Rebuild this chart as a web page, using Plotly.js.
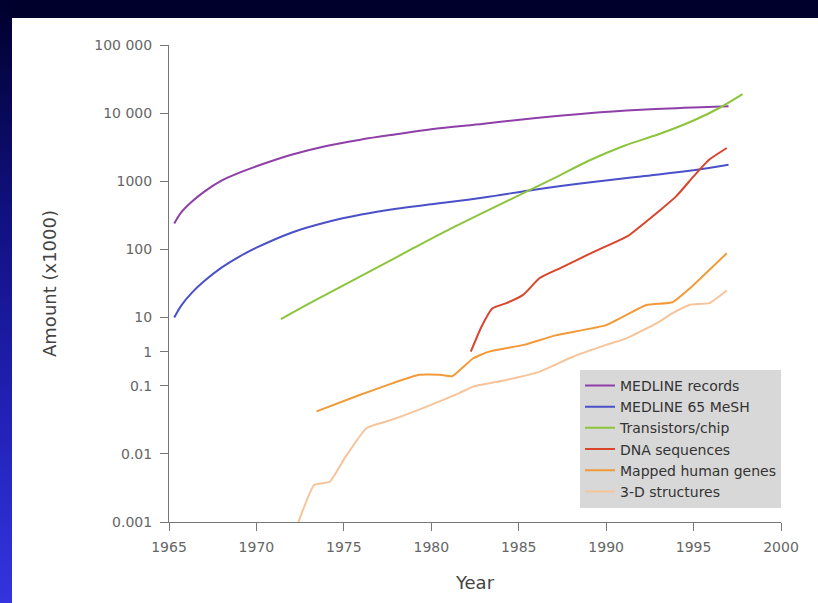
<!DOCTYPE html>
<html>
<head>
<meta charset="utf-8">
<script src="https://cdn.plot.ly/plotly-3.0.1.min.js"></script>
<style>
  html, body { margin: 0; padding: 0; width: 818px; height: 603px; overflow: hidden; background: #00002c; }
  #edge { position: absolute; left: 0; top: 0; width: 12px; height: 603px;
          background: linear-gradient(to bottom, #00002c 0%, #101080 35%, #2222b8 70%, #3434e0 100%); }
  #panel { position: absolute; left: 12px; top: 18px; width: 806px; height: 585px; background: #ffffff; }
  #chart { position: absolute; left: 0; top: 0; width: 818px; height: 603px; }
</style>
</head>
<body>
<div id="edge"></div>
<div id="panel"></div>
<div id="chart"></div>
<script>
// Growth of biological / technical data, amounts in thousands
const medlineYears = [1965.3, 1965.7, 1966.3, 1967, 1968, 1969, 1970, 1972, 1974, 1976, 1978, 1980, 1983, 1986, 1989, 1992, 1995, 1997];
const medlineVals  = [240, 350, 500, 700, 1020, 1330, 1660, 2450, 3300, 4100, 4900, 5800, 7000, 8500, 10000, 11200, 12100, 12600];

const meshYears = [1965.3, 1965.7, 1966.3, 1967, 1968, 1969, 1970, 1972, 1974, 1976, 1978, 1980, 1983, 1986, 1989, 1992, 1995, 1997];
const meshVals  = [10, 15, 23, 34, 54, 78, 106, 176, 250, 325, 395, 460, 580, 760, 960, 1180, 1450, 1750];

const transistorYears = [1971.4, 1973, 1975, 1977, 1979, 1981, 1983, 1985, 1987, 1989, 1991, 1993, 1995, 1996.5, 1997.8];
const transistorVals  = [9, 16, 30, 56, 105, 195, 350, 620, 1100, 2000, 3300, 4900, 7800, 12000, 19000];

const dnaYears = [1982.26, 1982.87, 1983.5, 1984.3, 1985.25, 1986.2, 1987.5, 1989.2, 1990.4, 1991.2, 1993.1, 1994, 1995, 1995.9, 1996.9];
const dnaVals  = [1.0, 5.4, 13.7, 16.3, 21.5, 38, 55, 90, 124, 155, 380, 600, 1180, 2080, 3080];

const genesYears = [1973.44, 1975.9, 1977.8, 1979.3, 1980.5, 1981.2, 1982.4, 1983.3, 1985.3, 1987.1, 1990.0, 1992.3, 1993.8, 1994.8, 1996.9];
const genesVals  = [0.042, 0.073, 0.119, 0.21, 0.21, 0.19, 0.64, 1.0, 1.58, 3.0, 6.0, 15.3, 16.8, 27, 88];

const structYears = [1972.4, 1973.3, 1974.2, 1975.1, 1976.3, 1977.8, 1979.7, 1981.6, 1982.4, 1984.3, 1986.2, 1988.1, 1990.0, 1991.2, 1992.9, 1993.8, 1994.8, 1995.9, 1996.9];
const structVals  = [0.001, 0.0035, 0.0039, 0.0091, 0.024, 0.032, 0.049, 0.078, 0.097, 0.148, 0.26, 0.71, 1.58, 2.5, 6.9, 11.6, 15.4, 16.3, 25];

const seriesNames = ['MEDLINE records', 'MEDLINE 65 MeSH', 'Transistors/chip', 'DNA sequences', 'Mapped human genes', '3-D structures'];

// Vertical scale labels
const yTickValues = [0.001, 0.01, 0.1, 1, 10, 100, 1000, 10000, 100000];
const yTickLabels = ['0.001', '0.01', '0.1', '1', '10', '100', '1000', '10 000', '100 000'];

// Broken log scale: whole decades except between 0.1 and 10,
// where each decade takes half the usual height.
function axisPos(v) {
  const d = Math.log10(v);
  if (d >= 1) return d;
  if (d >= -1) return (d + 1) / 2;
  return d + 1;
}

const colors = ['#8e3fa8', '#4a50c8', '#8cc43c', '#d8452c', '#f29a38', '#f6c49a'];
const xs = [medlineYears, meshYears, transistorYears, dnaYears, genesYears, structYears];
const ys = [medlineVals, meshVals, transistorVals, dnaVals, genesVals, structVals];
const smooth = [1, 1, 0.8, 0.5, 0.4, 0.4];

const traces = xs.map((x, i) => ({
  type: 'scatter',
  mode: 'lines',
  name: seriesNames[i],
  x: x,
  y: ys[i].map(axisPos),
  customdata: ys[i],
  hovertemplate: '%{x}: %{customdata}<extra>' + seriesNames[i] + '</extra>',
  line: { color: colors[i], width: 2, shape: 'spline', smoothing: smooth[i] }
}));

const font = 'DejaVu Sans, Arial, sans-serif';

const layout = {
  width: 818,
  height: 603,
  margin: { l: 169, r: 37, t: 45, b: 81 },
  paper_bgcolor: 'rgba(0,0,0,0)',
  plot_bgcolor: 'rgba(0,0,0,0)',
  font: { family: font, color: '#555' },
  showlegend: true,
  legend: {
    x: 1.0, xanchor: 'right', y: 0.319, yanchor: 'top',
    bgcolor: '#d8d8d8',
    borderwidth: 0,
    font: { family: font, size: 14, color: '#333' },
    tracegroupgap: 0
  },
  xaxis: {
    range: [1965, 2000],
    tickvals: [1965, 1970, 1975, 1980, 1985, 1990, 1995, 2000],
    ticks: 'outside', ticklen: 8, tickcolor: '#777', tickwidth: 1,
    ticklabelstandoff: 4,
    showline: true, linecolor: '#777', linewidth: 1,
    showgrid: false, zeroline: false,
    tickfont: { family: font, size: 14, color: '#666' },
    title: { text: 'Year', font: { family: font, size: 18, color: '#444' }, standoff: 22 }
  },
  yaxis: {
    range: [-2, 5],
    tickvals: yTickValues.map(axisPos),
    ticktext: yTickLabels,
    ticks: 'outside', ticklen: 8, tickcolor: '#777', tickwidth: 1,
    ticklabelstandoff: 5,
    showline: true, linecolor: '#777', linewidth: 1,
    showgrid: false, zeroline: false,
    tickfont: { family: font, size: 14, color: '#666' },
    title: { text: 'Amount (x1000)', font: { family: font, size: 18, color: '#444' }, standoff: 32 }
  }
};

Plotly.newPlot('chart', traces, layout, { displayModeBar: false, staticPlot: true });
</script>
</body>
</html>
